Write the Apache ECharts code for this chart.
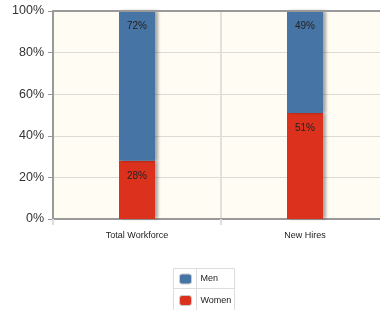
<!DOCTYPE html>
<html><head><meta charset="utf-8">
<script src="https://cdn.jsdelivr.net/npm/echarts@6/dist/echarts.min.js"></script>
<style>html,body{margin:0;padding:0;background:#fff}#c{width:380px;height:310px}</style>
</head><body><div id="c"></div>
<script>
const categories = ['Total Workforce', 'New Hires'];
const women = [28, 51];
const men = [72, 49];
const yTicks = [0, 20, 40, 60, 80, 100];

const chart = echarts.init(document.getElementById('c'), null, {renderer: 'canvas'});
const font = 'Liberation Sans, Arial, sans-serif';
const barShadow = {shadowColor: 'rgba(0,0,0,0.35)', shadowOffsetX: 3, shadowOffsetY: 0, shadowBlur: 3};
chart.setOption({
  animation: false,
  grid: {left: 53, top: 11, width: 336, height: 208, outerBoundsMode: 'none', containLabel: false,
    show: true, backgroundColor: '#fffcf4', borderWidth: 0},
  xAxis: {
    type: 'category', data: categories,
    axisLine: {lineStyle: {color: '#999', width: 2}},
    axisTick: {show: true, length: 6, lineStyle: {color: '#ddd', width: 2}},
    splitLine: {show: true, lineStyle: {color: '#e2e0da', width: 2}},
    axisLabel: {color: '#222', fontSize: 9, fontFamily: font, margin: 12}
  },
  yAxis: {
    type: 'value', min: 0, max: 100, interval: 20,
    axisLine: {show: true, lineStyle: {color: '#999', width: 2}},
    axisTick: {show: true, length: 5, lineStyle: {color: '#999', width: 1}},
    splitLine: {lineStyle: {color: '#dcdad4', width: 1}},
    axisLabel: {color: '#333', fontSize: 12.5, fontFamily: font, margin: 9,
      formatter: v => yTicks.includes(v) ? v + '%' : ''}
  },
  legend: {
    orient: 'vertical', left: 179, top: 273.5, padding: 0, itemWidth: 12, itemHeight: 10, itemGap: 10.5,
    data: ['Men', 'Women'],
    textStyle: {fontSize: 9, color: '#222', fontFamily: font, padding: [0, 0, 0, 4]},
    itemStyle: {borderColor: '#ccc', borderWidth: 1}
  },
  graphic: [
    {type: 'rect', shape: {x: 173.5, y: 268.5, width: 61, height: 44}, style: {fill: 'none', stroke: '#ddd', lineWidth: 1}, z: -1},
    {type: 'line', shape: {x1: 173.5, y1: 288.5, x2: 234.5, y2: 288.5}, style: {stroke: '#ddd', lineWidth: 1}},
    {type: 'line', shape: {x1: 196.5, y1: 268.5, x2: 196.5, y2: 312}, style: {stroke: '#ddd', lineWidth: 1}},
    {type: 'line', shape: {x1: 53, y1: 11, x2: 380, y2: 11}, style: {stroke: '#999', lineWidth: 2}, z: 10}
  ],
  series: [
    {name: 'Women', type: 'bar', stack: 's', data: women, barWidth: 36,
      itemStyle: Object.assign({color: '#dc321d'}, barShadow),
      label: {show: true, position: 'insideTop', distance: 10, formatter: '{c}%', color: '#222', fontSize: 10, fontFamily: font}},
    {name: 'Men', type: 'bar', stack: 's', data: men, barWidth: 36,
      itemStyle: Object.assign({color: '#4674a5'}, barShadow),
      label: {show: true, position: 'insideTop', distance: 10, formatter: '{c}%', color: '#222', fontSize: 10, fontFamily: font}}
  ]
});
</script></body></html>
